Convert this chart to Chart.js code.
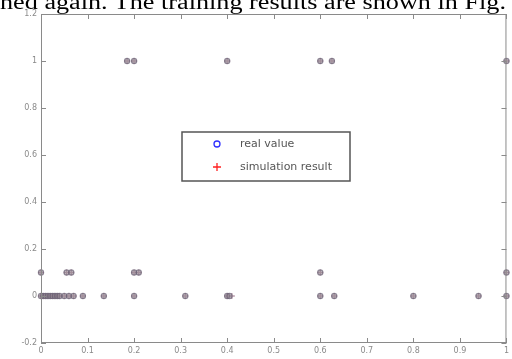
<!DOCTYPE html>
<html>
<head>
<meta charset="utf-8">
<script src="https://cdn.jsdelivr.net/npm/chart.js@4.4.1/dist/chart.umd.min.js"></script>
<style>
html,body{margin:0;padding:0;background:#fff;overflow:hidden;}
#wrap{position:relative;width:512px;height:359px;}
#cap{position:absolute;left:0;top:-8px;font-family:"Liberation Serif","Times New Roman",serif;font-size:20px;line-height:20px;color:#000;white-space:nowrap;transform:scaleX(1.31);transform-origin:0 0;}
canvas{position:absolute;left:0;top:0;}
</style>
</head>
<body>
<div id="wrap">
<canvas id="c" width="512" height="359"></canvas>
<div id="cap">ned again. The training results are shown in Fig.</div>
</div>
<script>
const seriesNames = ["real value", "simulation result"];
const xTicks = [0,0.1,0.2,0.3,0.4,0.5,0.6,0.7,0.8,0.9,1];
const yTicks = [-0.2,0,0.2,0.4,0.6,0.8,1,1.2];

const realX = [0.185,0.2,0.4,0.6,0.625,1.0,
  0,0.055,0.065,0.2,0.21,0.6,1.0,
  0,0.005,0.01,0.015,0.02,0.025,0.03,0.035,0.04,0.05,0.06,0.07,0.09,0.135,0.2,0.31,0.4,0.405,0.6,0.63,0.8,0.94,1.0];
const realY = [1,1,1,1,1,1,
  0.1,0.1,0.1,0.1,0.1,0.1,0.1,
  0,0,0,0,0,0,0,0,0,0,0,0,0,0,0,0,0,0,0,0,0,0,0];
const simX = [0.185,0.2,0.4,0.6,0.625,1.0,
  0,0.055,0.065,0.2,0.21,0.6,1.0,
  0,0.005,0.01,0.015,0.02,0.025,0.03,0.035,0.04,0.05,0.06,0.07,0.09,0.135,0.2,0.31,0.4,0.41,0.6,0.63,0.8,0.94,1.0];
const simY = [1,1,1,1,1,1,
  0.1,0.1,0.1,0.1,0.1,0.1,0.1,
  0,0,0,0,0,0,0,0,0,0,0,0,0,0,0,0,0,0,0,0,0,0,0];

const pts = (xs, ys) => xs.map((x, i) => ({x: x, y: ys[i]}));

const framePlugin = {
  id: 'frame',
  afterDatasetsDraw(chart) {
    const {ctx, chartArea: a, scales} = chart;
    ctx.save();
    ctx.strokeStyle = '#8a8a8a';
    ctx.lineWidth = 1;
    ctx.strokeRect(a.left + 0.5, a.top + 0.5, a.right - a.left - 1, a.bottom - a.top - 1);
    ctx.beginPath();
    xTicks.forEach(v => {
      const px = Math.round(scales.x.getPixelForValue(v)) + 0.5;
      ctx.moveTo(px, a.bottom); ctx.lineTo(px, a.bottom - 5);
      ctx.moveTo(px, a.top); ctx.lineTo(px, a.top + 5);
    });
    yTicks.forEach(v => {
      const py = Math.round(scales.y.getPixelForValue(v)) + 0.5;
      ctx.moveTo(a.left, py); ctx.lineTo(a.left + 5, py);
      ctx.moveTo(a.right, py); ctx.lineTo(a.right - 5, py);
    });
    ctx.stroke();
    // legend
    const lx = 182, ly = 132, lw = 168, lh = 49;
    ctx.fillStyle = '#fff';
    ctx.fillRect(lx, ly, lw, lh);
    ctx.strokeStyle = '#555';
    ctx.lineWidth = 1.5;
    ctx.strokeRect(lx, ly, lw, lh);
    ctx.font = '11px "DejaVu Sans", sans-serif';
    ctx.fillStyle = '#555';
    ctx.textBaseline = 'middle';
    chart.data.datasets.forEach((ds, i) => {
      const y = ly + 12 + i * 23;
      ctx.strokeStyle = ds.legendColor;
      ctx.lineWidth = 1.3;
      ctx.beginPath();
      if (ds.pointStyle === 'circle') {
        ctx.arc(217, y, 3, 0, Math.PI * 2);
      } else {
        ctx.moveTo(213, y); ctx.lineTo(221, y);
        ctx.moveTo(217, y - 4); ctx.lineTo(217, y + 4);
      }
      ctx.stroke();
      ctx.fillText(ds.label, 240, y);
    });
    ctx.restore();
  }
};

new Chart(document.getElementById('c'), {
  type: 'scatter',
  data: {
    datasets: [
      {label: seriesNames[0], data: pts(realX, realY), pointStyle: 'circle', pointRadius: 2.6,
       borderColor: 'rgba(105,95,115,0.7)', backgroundColor: 'rgba(140,130,140,0.5)', borderWidth: 1.2,
       legendColor: '#3030ff', clip: false},
      {label: seriesNames[1], data: pts(simX, simY), pointStyle: 'cross', pointRadius: 3,
       borderColor: 'rgba(140,90,115,0.6)', borderWidth: 1.3, legendColor: '#ff2020', clip: false}
    ]
  },
  options: {
    responsive: false,
    animation: false,
    layout: {padding: {top: 14, right: 2, left: 0, bottom: 0}},
    plugins: {legend: {display: false}, tooltip: {enabled: false}},
    scales: {
      x: {
        type: 'linear', min: 0, max: 1,
        afterBuildTicks: s => { s.ticks = xTicks.map(v => ({value: v})); },
        afterFit: s => { s.height = 16; },
        grid: {display: false, drawTicks: false}, border: {display: false},
        ticks: {color: '#8a8a8a', font: {size: 8, family: '"DejaVu Sans", sans-serif'}, padding: 3, maxRotation: 0,
                callback: v => String(v)}
      },
      y: {
        type: 'linear', min: -0.2, max: 1.2,
        afterBuildTicks: s => { s.ticks = yTicks.map(v => ({value: v})); },
        afterFit: s => { s.width = 41; },
        grid: {display: false, drawTicks: false}, border: {display: false},
        ticks: {color: '#8a8a8a', font: {size: 8, family: '"DejaVu Sans", sans-serif'}, padding: 4,
                callback: v => String(Math.round(v * 10) / 10)}
      }
    }
  },
  plugins: [framePlugin]
});
</script>
</body>
</html>
